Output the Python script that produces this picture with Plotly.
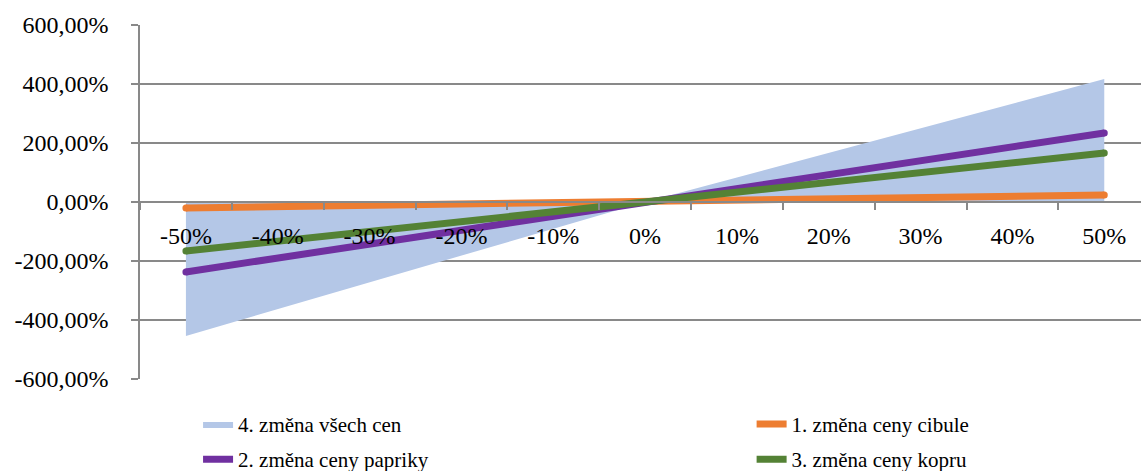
import plotly.graph_objects as go

# Sensitivity of the result to price changes
price_change = ["-50%", "-40%", "-30%", "-20%", "-10%", "0%", "10%", "20%", "30%", "40%", "50%"]

all_prices = [-454, -363, -272, -182, -91, 0, 83, 167, 250, 334, 417]
onion = [-20, -16, -12, -8, -4, 0, 5, 10, 14, 19, 24]
pepper = [-237, -190, -142, -95, -47, 0, 47, 94, 140, 187, 234]
dill = [-166, -133, -100, -66, -33, 0, 33, 66, 100, 133, 166]

y_tick_values = [-600, -400, -200, 0, 200, 400, 600]
y_tick_labels = ["-600,00%", "-400,00%", "-200,00%", "0,00%", "200,00%", "400,00%", "600,00%"]

FONT = "Liberation Serif, Times New Roman, serif"
GRID = "#898989"

fig = go.Figure()

fig.add_trace(go.Scatter(
    x=price_change, y=all_prices, name="4. změna všech cen",
    mode="lines", fill="tozeroy", fillcolor="#B4C7E7",
    line=dict(width=0, color="#B4C7E7"), legend="legend", legendgroup="all",
))

# (name, values, colour, legend column)
line_series = [
    ("1. změna ceny cibule", onion, "#ED7D31", "legend2"),
    ("2. změna ceny papriky", pepper, "#7030A0", "legend"),
    ("3. změna ceny kopru", dill, "#548235", "legend2"),
]
for name, values, color, leg in line_series:
    fig.add_trace(go.Scatter(
        x=price_change, y=values, name=name, mode="lines",
        line=dict(width=7, color=color), legend=leg, legendgroup=name,
    ))
    # rounded ends of the thick lines
    fig.add_trace(go.Scatter(
        x=[price_change[0], price_change[-1]], y=[values[0], values[-1]],
        mode="markers", marker=dict(size=7, color=color),
        showlegend=False, hoverinfo="skip",
    ))

legend_style = dict(
    orientation="v", xanchor="left", y=-0.07, yanchor="top",
    font=dict(family=FONT, size=21, color="black"),
    traceorder="grouped", tracegroupgap=5, bgcolor="rgba(0,0,0,0)",
)

fig.update_layout(
    width=1141, height=471,
    margin=dict(l=140, r=0, t=25, b=92, autoexpand=False),
    plot_bgcolor="white", paper_bgcolor="white",
    font=dict(family=FONT, size=24, color="black"),
    showlegend=True,
    legend=dict(x=0.058, **legend_style),
    legend2=dict(x=0.611, **legend_style),
)

fig.update_xaxes(
    type="category", range=[-0.5, 10.4],
    anchor="free", position=0.5,
    showline=True, linecolor=GRID, linewidth=1.5,
    ticks="outside", tickson="boundaries", ticklen=7, tickcolor=GRID, tickwidth=1.5,
    ticklabelstandoff=12,
    showgrid=False, zeroline=False,
    tickfont=dict(family=FONT, size=24, color="black"),
)

fig.update_yaxes(
    range=[-600, 600],
    tickvals=y_tick_values, ticktext=y_tick_labels,
    showline=True, linecolor=GRID, linewidth=1.5,
    ticks="outside", ticklen=7, tickcolor=GRID, tickwidth=1.5,
    ticklabelstandoff=18,
    showgrid=True, gridcolor=GRID, gridwidth=1.5,
    zeroline=False,
    tickfont=dict(family=FONT, size=24, color="black"),
)

fig.write_html("out.html")
